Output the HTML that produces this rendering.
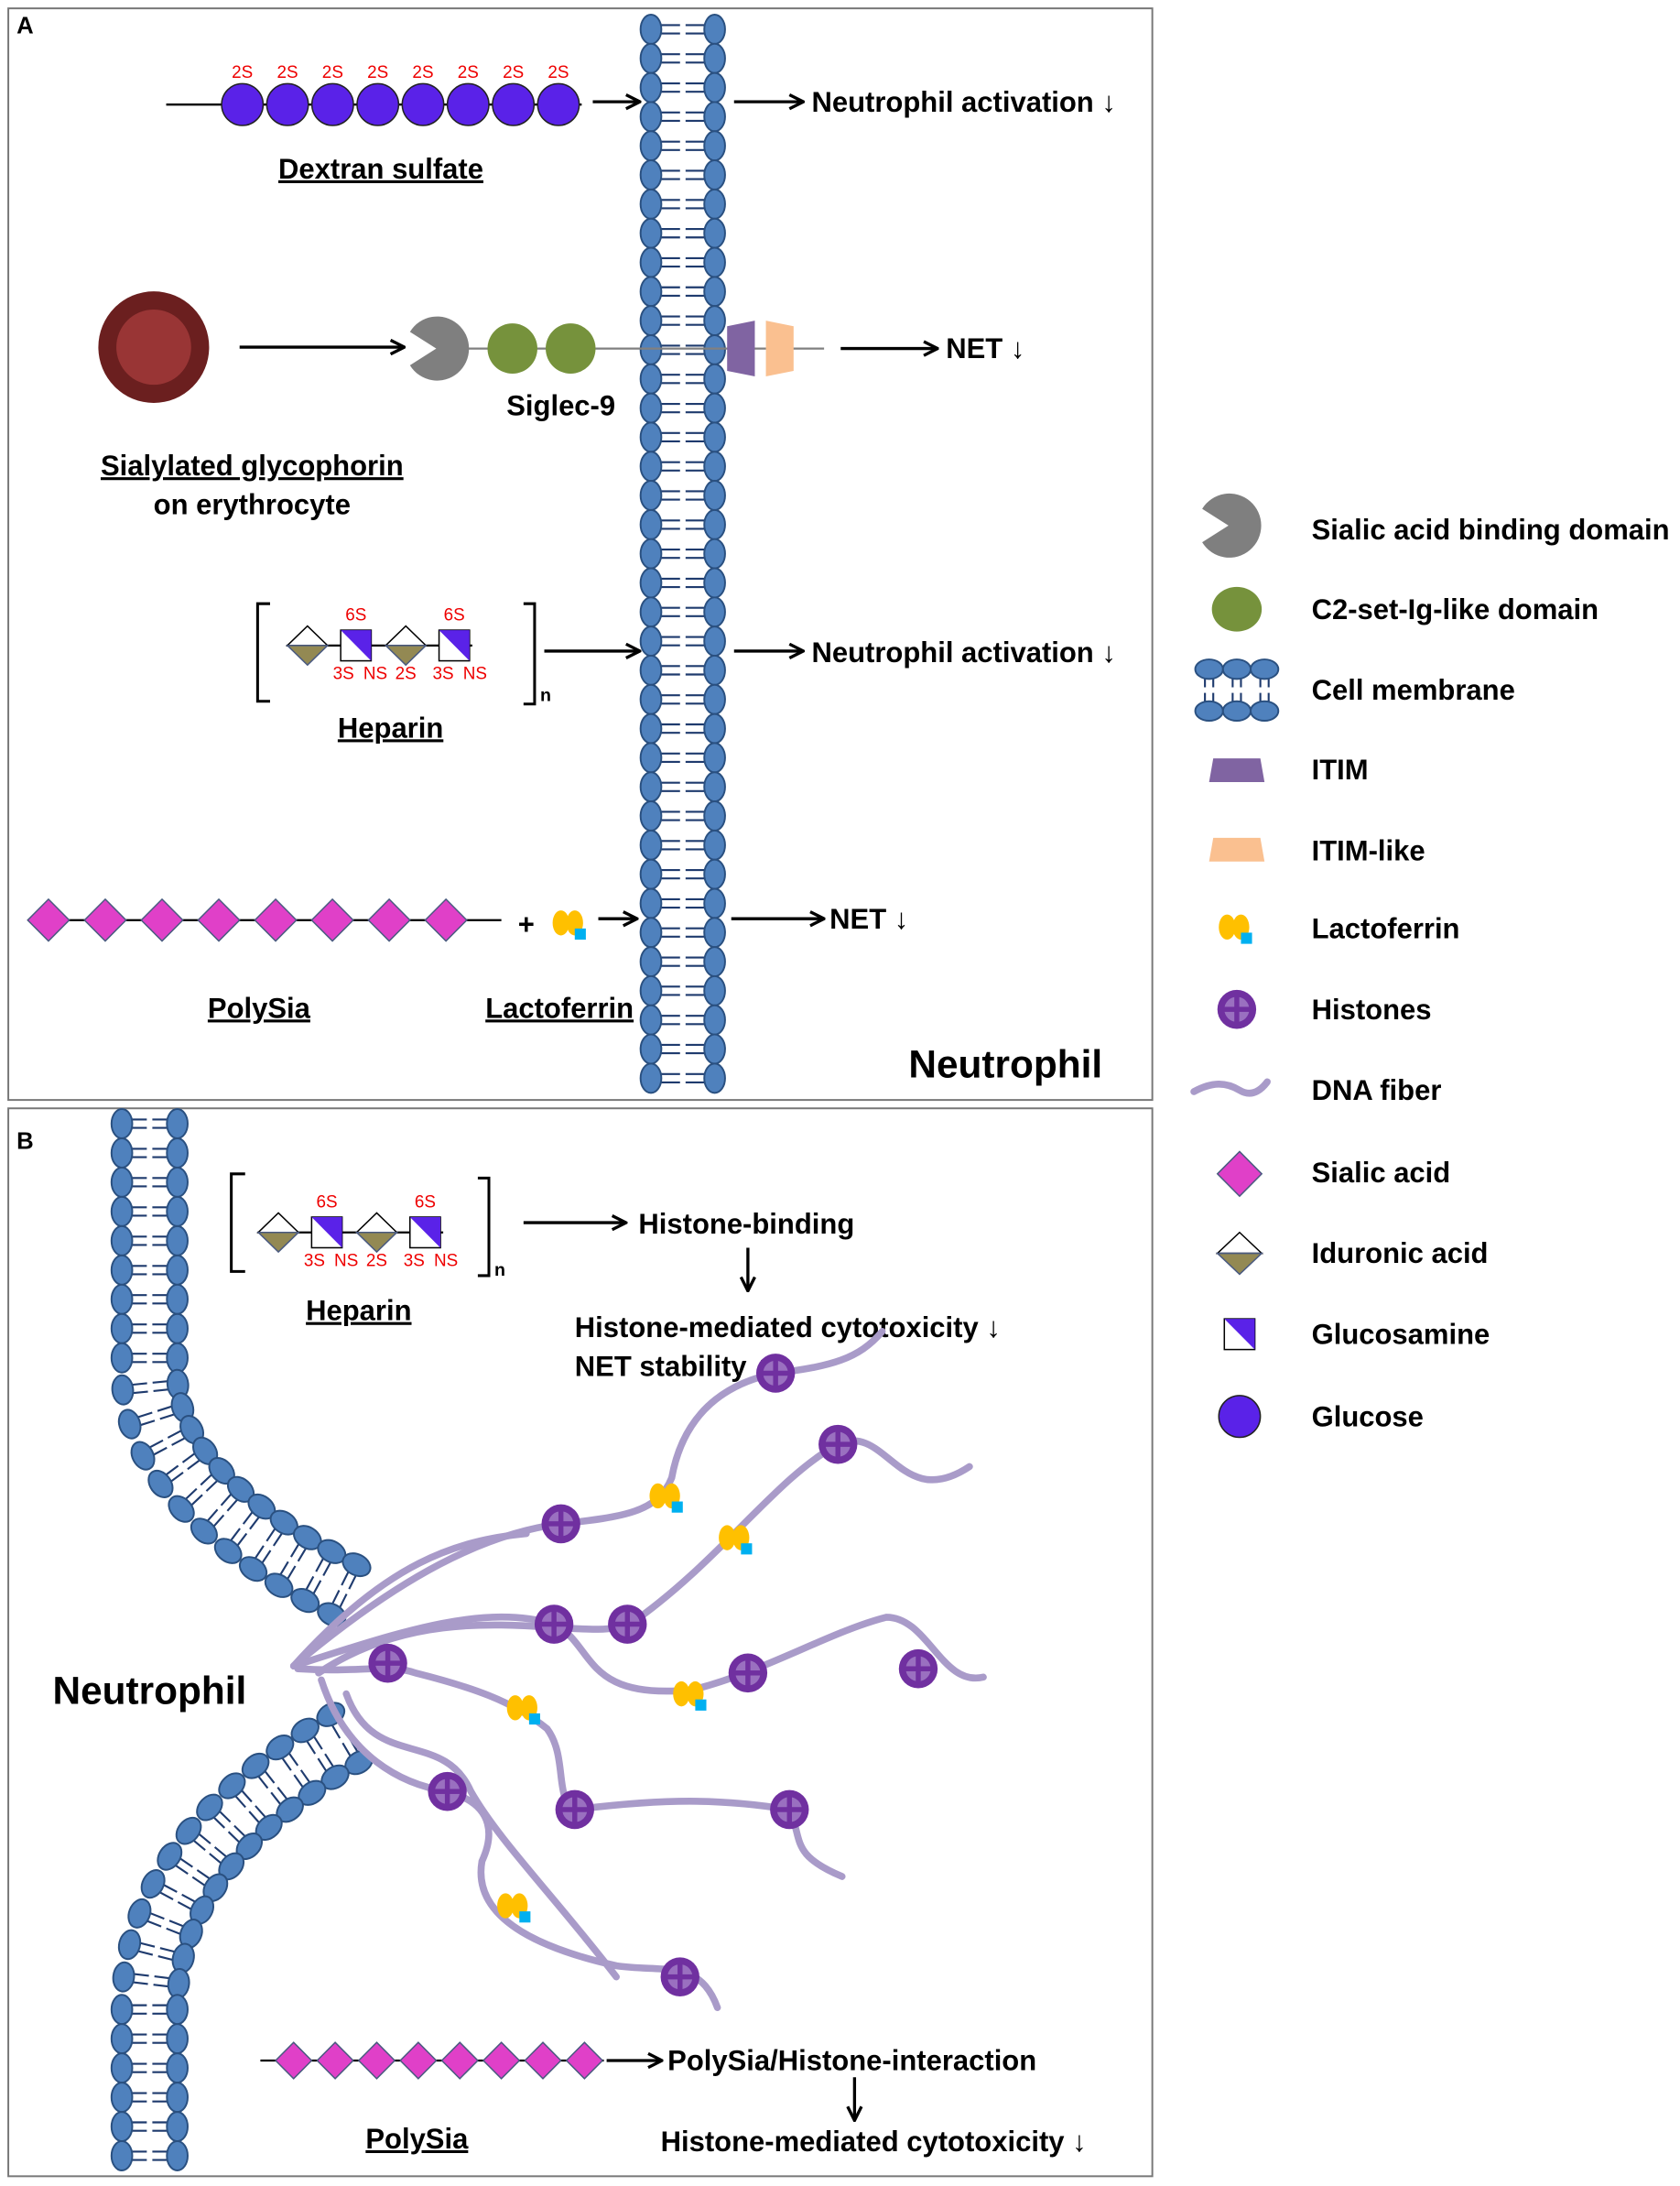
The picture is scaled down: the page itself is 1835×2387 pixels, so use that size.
<!DOCTYPE html>
<html><head><meta charset="utf-8"><style>
html,body{margin:0;padding:0;background:#fff}
svg{display:block}
text{font-family:"Liberation Sans",Arial,sans-serif;font-weight:bold;fill:#000}
.t{font-size:20.5px}
.r{fill:#e00;font-size:12.5px;font-weight:normal}
.u{text-decoration:underline}
</style></head><body>
<svg id="s" width="1835" height="2387" viewBox="0 0 1213 1568" preserveAspectRatio="none" xmlns="http://www.w3.org/2000/svg">
<defs>
<marker id="ah" viewBox="0 0 12 12" refX="11" refY="6" markerWidth="12" markerHeight="12" markerUnits="userSpaceOnUse" orient="auto">
<path d="M1,1 L11,6 L1,11" fill="none" stroke="#000" stroke-width="2.2"/></marker>
<g id="hep">
<line x1="186" y1="884" x2="320" y2="884" stroke="#000" stroke-width="1.5"/>
<path d="M186.5,884 L201,870 L215.5,884Z" fill="#fff" stroke="#000" stroke-width="1"/>
<path d="M186.5,884 L201,898 L215.5,884Z" fill="#938953" stroke="#4a5a80" stroke-width="1"/>
<rect x="225" y="873" width="22" height="22" fill="#fff" stroke="#000" stroke-width="1"/>
<path d="M225,873 L247,873 L247,895Z" fill="#5a22e8"/>
<path d="M257.5,884 L272,870 L286.5,884Z" fill="#fff" stroke="#000" stroke-width="1"/>
<path d="M257.5,884 L272,898 L286.5,884Z" fill="#938953" stroke="#4a5a80" stroke-width="1"/>
<rect x="296" y="873" width="22" height="22" fill="#fff" stroke="#000" stroke-width="1"/>
<path d="M296,873 L318,873 L318,895Z" fill="#5a22e8"/>
<text class="r" x="236" y="866" text-anchor="middle">6S</text>
<text class="r" x="307" y="866" text-anchor="middle">6S</text>
<text class="r" x="227" y="908" text-anchor="middle">3S</text>
<text class="r" x="250" y="908" text-anchor="middle">NS</text>
<text class="r" x="272" y="908" text-anchor="middle">2S</text>
<text class="r" x="299" y="908" text-anchor="middle">3S</text>
<text class="r" x="322" y="908" text-anchor="middle">NS</text>
</g>
<g id="lac"><ellipse cx="-5" cy="0" rx="6" ry="9" fill="#ffc000"/><ellipse cx="5" cy="0" rx="6" ry="9" fill="#ffc000"/><rect x="5" y="4" width="8" height="8" fill="#00b0f0"/></g>
<g id="his"><circle r="14" fill="#7030a0"/><circle r="9" fill="#9a70c0"/><rect x="-1.8" y="-10" width="3.6" height="20" fill="#7030a0"/><rect x="-10" y="-1.8" width="20" height="3.6" fill="#7030a0"/></g>
</defs>
<rect x="6" y="6" width="826" height="783" fill="none" stroke="#777" stroke-width="1.3"/>
<rect x="6" y="795" width="826" height="766" fill="none" stroke="#777" stroke-width="1.3"/>
<text x="12" y="24" font-size="17">A</text>
<text x="12" y="824" font-size="17">B</text>
<g id="mem"></g>
<!-- Dextran -->
<line x1="120" y1="75" x2="420" y2="75" stroke="#000" stroke-width="1.5"/>
<g id="dex"></g>
<text class="t u" x="275" y="128" text-anchor="middle">Dextran sulfate</text>
<line x1="428" y1="73" x2="462" y2="73" stroke="#000" stroke-width="2.2" marker-end="url(#ah)"/>
<line x1="530" y1="73" x2="580" y2="73" stroke="#000" stroke-width="2.2" marker-end="url(#ah)"/>
<text class="t" x="586" y="80">Neutrophil activation ↓</text>
<!-- Siglec -->
<circle cx="111" cy="249" r="40" fill="#6b1f1f"/><circle cx="111" cy="249" r="27" fill="#993535"/>
<line x1="173" y1="249" x2="292" y2="249" stroke="#000" stroke-width="2.2" marker-end="url(#ah)"/>
<line x1="330" y1="250" x2="595" y2="250" stroke="#808080" stroke-width="1.5"/>
<path d="M315,250 L296,238 A23,23 0 1 1 296,262Z" fill="#7f7f7f"/>
<circle cx="370" cy="250" r="18" fill="#76923c"/><circle cx="412" cy="250" r="18" fill="#76923c"/>
<path d="M525,234 L545,230 L545,270 L525,266Z" fill="#8064a2"/>
<path d="M553,230 L573,234 L573,266 L553,270Z" fill="#fac090"/>
<line x1="607" y1="250" x2="677" y2="250" stroke="#000" stroke-width="2.2" marker-end="url(#ah)"/>
<text class="t" x="683" y="257">NET ↓</text>
<text class="t" x="405" y="298" text-anchor="middle">Siglec-9</text>
<text class="t u" x="182" y="341" text-anchor="middle">Sialylated glycophorin </text>
<text class="t" x="182" y="369" text-anchor="middle">on erythrocyte</text>
<!-- Heparin A -->
<g transform="translate(21,-421)"><use href="#hep"/></g>
<path d="M195,433 L186,433 L186,503 L195,503" fill="none" stroke="#000" stroke-width="2"/>
<path d="M378,433 L386,433 L386,505 L378,505" fill="none" stroke="#000" stroke-width="2"/>
<text x="390" y="503" font-size="13" font-weight="normal">n</text>
<text class="t u" x="282" y="529" text-anchor="middle">Heparin</text>
<line x1="393" y1="467" x2="462" y2="467" stroke="#000" stroke-width="2.2" marker-end="url(#ah)"/>
<line x1="530" y1="467" x2="580" y2="467" stroke="#000" stroke-width="2.2" marker-end="url(#ah)"/>
<text class="t" x="586" y="475">Neutrophil activation ↓</text>
<!-- PolySia A -->
<line x1="20" y1="660" x2="362" y2="660" stroke="#000" stroke-width="1.5"/>
<g id="psA"></g>
<text class="t" x="380" y="670" text-anchor="middle">+</text>
<use href="#lac" x="410" y="662"/>
<line x1="432" y1="659" x2="460" y2="659" stroke="#000" stroke-width="2.2" marker-end="url(#ah)"/>
<line x1="528" y1="659" x2="595" y2="659" stroke="#000" stroke-width="2.2" marker-end="url(#ah)"/>
<text class="t" x="599" y="666">NET ↓</text>
<text class="t u" x="187" y="730" text-anchor="middle">PolySia</text>
<text class="t u" x="404" y="730" text-anchor="middle">Lactoferrin</text>
<text x="726" y="773" font-size="28" text-anchor="middle">Neutrophil</text>
<!-- Legend -->
<path d="M887,377 L868,365 A23,23 0 1 1 868,389Z" fill="#7f7f7f"/>
<text class="t" x="947" y="387">Sialic acid binding domain</text>
<ellipse cx="893" cy="437" rx="18" ry="16" fill="#76923c"/>
<text class="t" x="947" y="444">C2-set-Ig-like domain</text>
<g id="legmem"></g>
<text class="t" x="947" y="502">Cell membrane</text>
<path d="M876,544 L910,544 L913,561 L873,561Z" fill="#8064a2"/>
<text class="t" x="947" y="559">ITIM</text>
<path d="M876,601 L910,601 L913,618 L873,618Z" fill="#fac090"/>
<text class="t" x="947" y="617">ITIM-like</text>
<use href="#lac" x="891" y="665"/>
<text class="t" x="947" y="673">Lactoferrin</text>
<use href="#his" x="893" y="724"/>
<text class="t" x="947" y="731">Histones</text>
<path d="M862,783 C875,776 885,776 895,782 C905,788 912,780 915,776" fill="none" stroke="#a99bc9" stroke-width="5" stroke-linecap="round"/>
<text class="t" x="947" y="789">DNA fiber</text>
<path d="M895,826 L911,842 L895,858 L879,842Z" fill="#e040c8" stroke="#4a5a80" stroke-width="1"/>
<text class="t" x="947" y="848">Sialic acid</text>
<path d="M879,899 L895,884 L911,899Z" fill="#fff" stroke="#000" stroke-width="1"/>
<path d="M879,899 L895,914 L911,899Z" fill="#938953" stroke="#4a5a80" stroke-width="1"/>
<text class="t" x="947" y="906">Iduronic acid</text>
<rect x="884" y="946" width="22" height="22" fill="#fff" stroke="#000" stroke-width="1"/>
<path d="M884,946 L906,946 L906,968Z" fill="#5a22e8"/>
<text class="t" x="947" y="964">Glucosamine</text>
<circle cx="895" cy="1016" r="15" fill="#5a22e8" stroke="#222" stroke-width="1"/>
<text class="t" x="947" y="1023">Glucose</text>
<!-- Panel B -->
<use href="#hep"/>
<path d="M177,842 L167,842 L167,912 L177,912" fill="none" stroke="#000" stroke-width="2"/>
<path d="M345,845 L353,845 L353,915 L345,915" fill="none" stroke="#000" stroke-width="2"/>
<text x="357" y="915" font-size="13" font-weight="normal">n</text>
<text class="t u" x="259" y="947" text-anchor="middle">Heparin</text>
<line x1="378" y1="877" x2="452" y2="877" stroke="#000" stroke-width="2.2" marker-end="url(#ah)"/>
<text class="t" x="461" y="885">Histone-binding</text>
<line x1="540" y1="895" x2="540" y2="926" stroke="#000" stroke-width="2.2" marker-end="url(#ah)"/>
<text class="t" x="415" y="959">Histone-mediated cytotoxicity  ↓</text>
<text class="t" x="415" y="987">NET stability ↓</text>
<g fill="none" stroke="#a99bc9" stroke-width="5" stroke-linecap="round">
<path d="M212,1195 C290,1130 350,1100 405,1093 C450,1088 475,1085 485,1060 C495,1005 535,990 560,985 C600,980 620,975 637,955"/>
<path d="M212,1195 C280,1120 330,1105 380,1100"/>
<path d="M230,1200 C320,1140 420,1180 455,1165 C520,1120 560,1060 605,1036 C640,1020 650,1085 700,1052"/>
<path d="M212,1195 C290,1170 350,1150 400,1165 C430,1180 420,1220 500,1212 C550,1200 600,1170 640,1160 C670,1160 680,1210 710,1203"/>
<path d="M215,1197 C260,1200 280,1193 300,1200 C340,1210 370,1220 395,1240 C410,1260 400,1290 415,1298 C480,1290 520,1290 570,1298 C580,1320 570,1330 608,1346"/>
<path d="M232,1205 C250,1260 290,1280 323,1285 C360,1295 355,1320 348,1335 C340,1380 400,1400 445,1410 C480,1415 505,1405 518,1440"/>
<path d="M250,1215 C270,1270 320,1240 340,1285 C360,1320 400,1360 445,1418"/>
</g>
<g id="hisB"></g>
<g id="lacB"></g>
<text x="108" y="1222" font-size="28" text-anchor="middle">Neutrophil</text>
<line x1="188" y1="1478" x2="436" y2="1478" stroke="#000" stroke-width="1.5"/>
<g id="psB"></g>
<line x1="438" y1="1478" x2="478" y2="1478" stroke="#000" stroke-width="2.2" marker-end="url(#ah)"/>
<text class="t" x="482" y="1485">PolySia/Histone-interaction</text>
<line x1="617" y1="1490" x2="617" y2="1521" stroke="#000" stroke-width="2.2" marker-end="url(#ah)"/>
<text class="t" x="477" y="1543">Histone-mediated cytotoxicity  ↓</text>
<text class="t u" x="301" y="1541" text-anchor="middle">PolySia</text>
</svg>
<script>
var NS="http://www.w3.org/2000/svg";
function el(p,t,a){var e=document.createElementNS(NS,t);for(var k in a)e.setAttribute(k,a[k]);p.appendChild(e);return e;}
var mem=document.getElementById("mem");
function pair(g,x,y,ang,half,rx,ry){
  rx=rx||10.5;ry=ry||7.5;
  var gg=el(g,"g",{transform:"translate("+x+","+y+") rotate("+ang+")"});
  var st={stroke:"#1f3b6e","stroke-width":"1.4"};
  [-3,3].forEach(function(o){
    el(gg,"line",Object.assign({x1:o,y1:-half+6,x2:o,y2:-2},st));
    el(gg,"line",Object.assign({x1:o,y1:2,x2:o,y2:half-6},st));
  });
  el(gg,"ellipse",{cx:0,cy:-half,rx:rx,ry:ry,fill:"#4f81bd",stroke:"#2a5080","stroke-width":"1.3"});
  el(gg,"ellipse",{cx:0,cy:half,rx:rx,ry:ry,fill:"#4f81bd",stroke:"#2a5080","stroke-width":"1.3"});
}
for(var y=21;y<=778;y+=20.9){pair(mem,493,y,90,23);}
var lm=document.getElementById("legmem");
[873,893,913].forEach(function(x){pair(lm,x,495,0,15,10,7);});
function along(d,sp){
  var p=el(mem,"path",{d:d,fill:"none"});var L=p.getTotalLength();
  for(var s=0;s<=L;s+=sp){var a=p.getPointAtLength(s),b=p.getPointAtLength(Math.min(L,s+1)),c=p.getPointAtLength(Math.max(0,s-1));
    var ang=Math.atan2(b.y-c.y,b.x-c.x)*180/Math.PI;pair(mem,a.x,a.y,ang,20);}
  p.remove();
}
along("M108,806 L108,985 Q108,1070 250,1141",21);
along("M249,1247 Q108,1330 108,1440 L108,1560",21);
var dx=document.getElementById("dex");
for(var i=0;i<8;i++){var x=175+i*32.6;el(dx,"circle",{cx:x,cy:75,r:15,fill:"#5a22e8",stroke:"#222","stroke-width":"1"});
 var t=el(dx,"text",{x:x,y:56,"text-anchor":"middle","class":"r"});t.textContent="2S";}
function dia(g,x,y,h){el(g,"path",{d:"M"+x+","+(y-h)+" L"+(x+h)+","+y+" L"+x+","+(y+h)+" L"+(x-h)+","+y+"Z",fill:"#e040c8",stroke:"#4a5a80","stroke-width":"1"});}
var pa=document.getElementById("psA");for(i=0;i<8;i++)dia(pa,35+i*41,660,15);
var pb=document.getElementById("psB");for(i=0;i<8;i++)dia(pb,212+i*30,1478,13);
var hb=document.getElementById("hisB");
[[560,985],[605,1036],[405,1093],[400,1165],[453,1165],[280,1193],[540,1200],[663,1197],[323,1285],[415,1298],[570,1298],[491,1418]].forEach(function(p){el(hb,"use",{href:"#his",x:p[0],y:p[1]});});
var lb=document.getElementById("lacB");
[[480,1073],[530,1103],[497,1215],[377,1225],[370,1367]].forEach(function(p){el(lb,"use",{href:"#lac",x:p[0],y:p[1]});});
</script>
</body></html>
